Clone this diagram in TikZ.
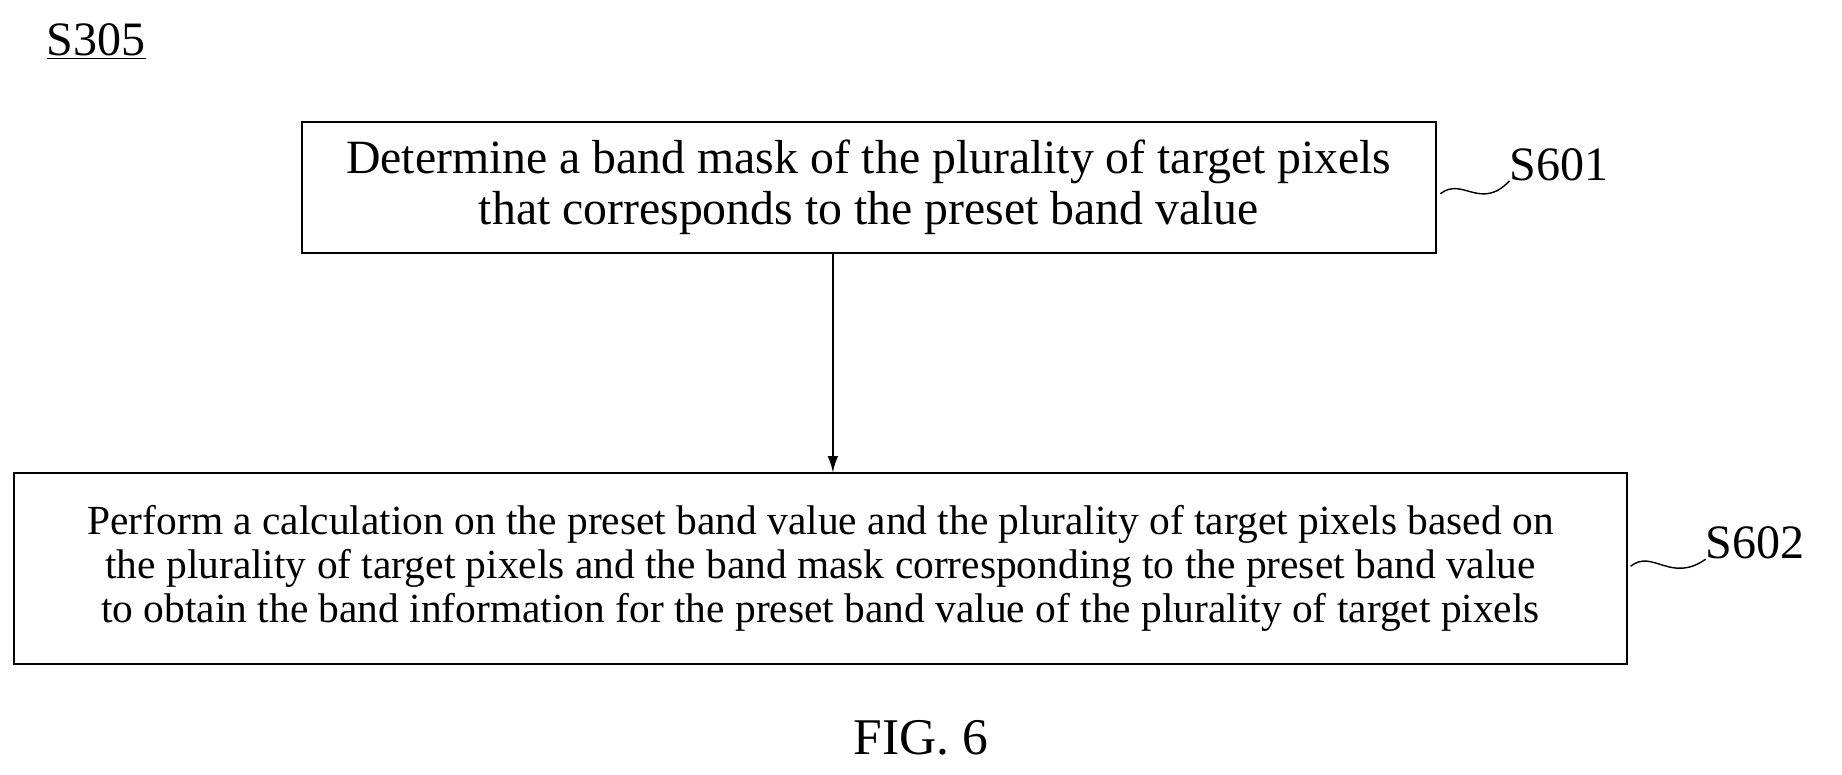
\documentclass[tikz,border=0pt]{standalone}
\usepackage{fontspec}
\setmainfont{Liberation Serif}
\usetikzlibrary{arrows.meta}
\begin{document}
\begin{tikzpicture}[x=1bp,y=-1bp,
  box/.style={draw,line width=1.6bp,inner sep=0,align=center},
  lbl/.style={font=\fontsize{41}{43}\selectfont,anchor=west,inner sep=0},
  sq/.style={line width=1.2bp}]
\useasboundingbox (0,0) rectangle (1568,659);
\node[box,minimum width=965bp,minimum height=111bp,font=\fontsize{40.8}{43}\selectfont] (b1) at (739.5,159.5) {Determine a band mask of the plurality of target pixels\\that corresponds to the preset band value};
\node[box,minimum width=1373bp,minimum height=162bp,font=\fontsize{35.4}{37.5}\selectfont] (b2) at (698.5,484) {Perform a calculation on the preset band value and the plurality of target pixels based on\\the plurality of target pixels and the band mask corresponding to the preset band value\\to obtain the band information for the preset band value of the plurality of target pixels};
\draw[line width=1.4bp,-{Latex[length=14bp,width=9bp]}] (b1.south -| 709,0) -- (b2.north -| 709,0);
\node[lbl] (l1) at (1285,140) {S601};
\node[lbl] (l2) at (1452,462) {S602};
\coordinate (c1) at (1226,165);
\coordinate (c2) at (1388,482);
\draw[sq] (c1) .. controls (1245,150) and (1260,180) .. (l1.south west);
\draw[sq] (c2) .. controls (1407,467) and (1422,497) .. (l2.south west);
\node[lbl,anchor=center] (s) at (82,35) {\underline{S305}};
\node[font=\fontsize{44}{46}\selectfont] (f) at (784,628) {FIG. 6};
\end{tikzpicture}
\end{document}
